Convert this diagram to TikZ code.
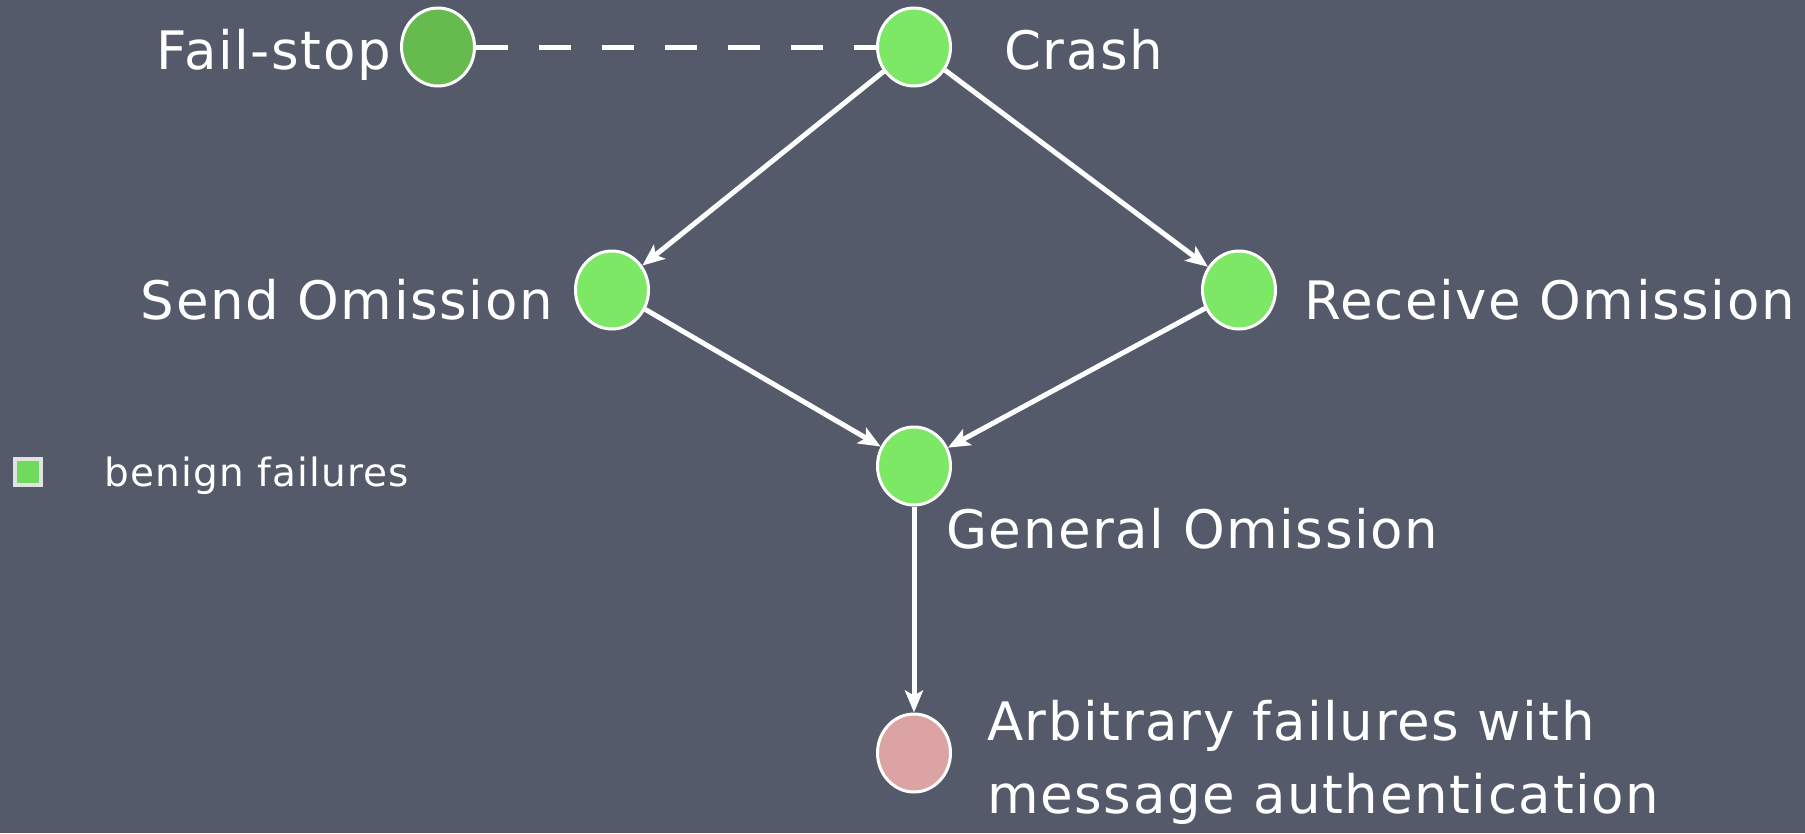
\documentclass[tikz,border=0pt]{standalone}
\usepackage{fontspec}
\setmainfont{DejaVu Sans}[LetterSpace=3]
\usetikzlibrary{shapes.geometric,arrows.meta}
\definecolor{board}{HTML}{545A69}
\definecolor{lgreen}{HTML}{7DE865}
\definecolor{dgreen}{HTML}{66BB4E}
\definecolor{pinkish}{HTML}{DBA3A3}
\definecolor{legendgreen}{HTML}{6FDA5B}
\definecolor{legendframe}{HTML}{E2E2E2}
\tikzset{
  state/.style={ellipse, draw=white, line width=3pt, minimum width=73pt, minimum height=78pt, inner sep=0pt, fill=lgreen},
  lbl/.style={text=white, font=\fontsize{53}{58}\selectfont, inner sep=0pt},
  small/.style={text=white, font=\fontsize{39}{44}\selectfont, inner sep=0pt},
  arr/.style={draw=white, line width=5pt, -{Stealth[length=22pt,width=18pt,inset=5pt]}},
  dash line/.style={draw=white, line width=5pt, dash pattern=on 32pt off 31pt}
}
\begin{document}
\begin{tikzpicture}[x=1pt,y=-1pt]
\fill[board] (0,0) rectangle (1805,833);
\useasboundingbox (0,0) rectangle (1805,833);

\node[state, fill=dgreen] (fs) at (438,47) {};
\node[state] (crash) at (914,47) {};
\node[state] (send) at (612,290) {};
\node[state] (recv) at (1239,290) {};
\node[state] (gen) at (914,466) {};
\node[state, fill=pinkish] (arb) at (914,753) {};

\node[lbl, anchor=base east] (lfs) at (391,69) {Fail-stop};
\node[lbl, anchor=base west] (lcrash) at (1004,69) {Crash};
\node[lbl, anchor=base east] (lsend) at (553,319) {Send Omission};
\node[lbl, anchor=base west] (lrecv) at (1304,319) {Receive Omission};
\node[lbl, anchor=base west] (lgen) at (946,548) {General Omission};
\node[lbl, anchor=base west] (larb1) at (987,740) {Arbitrary failures with};
\node[lbl, anchor=base west] (larb2) at (987,813) {message authentication};

\node[draw=legendframe, fill=legendgreen, line width=3.5pt, minimum size=26pt, inner sep=0pt] (leg) at (28,472) {};
\node[small, anchor=base west] (lleg) at (104,486) {benign failures};

\draw[dash line] (fs) -- (crash);
\draw[arr] (crash) -- (send);
\draw[arr] (crash) -- (recv);
\draw[arr] (send) -- (gen);
\draw[arr] (recv) -- (gen);
\draw[arr] (gen) -- (arb);
\end{tikzpicture}
\end{document}
